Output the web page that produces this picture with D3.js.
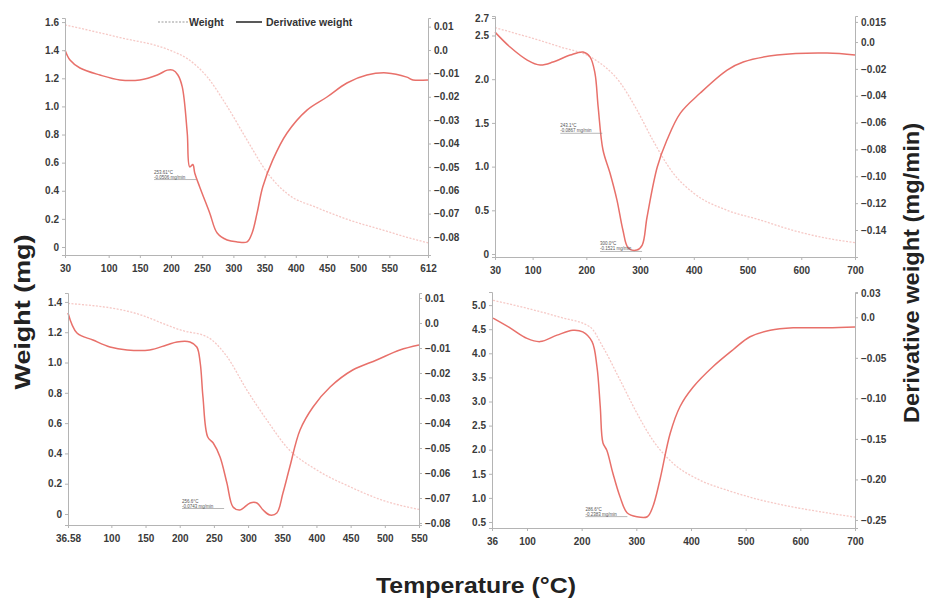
<!DOCTYPE html>
<html><head><meta charset="utf-8">
<script src="https://cdn.jsdelivr.net/npm/d3@7"></script>
<style>
body{margin:0;background:#fff;}
svg{font-family:"Liberation Sans",Arial,sans-serif;}
</style></head>
<body>
<svg id="c" width="929" height="601"></svg>
<script>
// ---------- DATA ----------
// Panel A (top-left)
const tempA_d = [30,38,54,86,118,150,178,194,203,211,218,226,230,235,238,246,262,274,290,306,322,330,338,347,363,386,418,450,482,514,546,578,588,612];
const derivA  = [0,-0.0043,-0.0077,-0.0107,-0.0128,-0.0128,-0.0107,-0.0086,-0.0086,-0.0107,-0.0158,-0.0355,-0.050,-0.049,-0.0526,-0.0586,-0.0697,-0.0783,-0.0813,-0.0821,-0.0821,-0.0783,-0.0697,-0.0586,-0.0471,-0.0355,-0.0257,-0.0201,-0.0141,-0.0107,-0.0098,-0.0116,-0.0128,-0.0128];
const tempA_w = [30,118,198,226,258,290,322,354,386,434,487,540,594,612];
const weightA = [1.58,1.49,1.40,1.34,1.21,1.00,0.76,0.53,0.38,0.28,0.19,0.12,0.05,0.03];
const xTicksA = [30,100,150,200,250,300,350,400,450,500,550,612];
const wTicksA = [0,0.2,0.4,0.6,0.8,1.0,1.2,1.4,1.6];
const dTicksA = [0.01,0,-0.01,-0.02,-0.03,-0.04,-0.05,-0.06,-0.07,-0.08];

// Panel B (top-right)
const tempB_d = [30,58,90,114,138,170,194,207,216,222,231,244,257,268,278,294,304,313,332,350,375,412,462,492,555,648,700];
const derivB  = [0.0074,-0.0037,-0.0134,-0.0171,-0.0149,-0.0097,-0.0074,-0.0112,-0.0231,-0.0484,-0.0804,-0.0975,-0.1177,-0.140,-0.1534,-0.1549,-0.1512,-0.1303,-0.0931,-0.0730,-0.0529,-0.038,-0.0209,-0.0149,-0.0097,-0.0082,-0.0097];
const tempB_w = [30,151,212,263,294,324,361,399,462,523,585,648,700];
const weightB = [2.59,2.37,2.24,1.96,1.65,1.30,0.93,0.70,0.50,0.39,0.27,0.18,0.13];
const xTicksB = [30,100,200,300,400,500,600,700];
const wTicksB = [0,0.5,1.0,1.5,2.0,2.5,2.7];
const dTicksB = [0.015,0,-0.02,-0.04,-0.06,-0.08,-0.10,-0.12,-0.14];

// Panel C (bottom-left)
const tempC_d = [36.58,49.7,73,98,123,156,181,196,215,225,230,234,241,249,259,269,278,288,303,313,322,332,342,351,361,376,395,420,453,488,522,550];
const derivC  = [0.004,-0.004,-0.0068,-0.0096,-0.0108,-0.0108,-0.0088,-0.0076,-0.0076,-0.0096,-0.016,-0.0296,-0.0456,-0.048,-0.0536,-0.064,-0.0736,-0.0748,-0.072,-0.072,-0.0748,-0.0768,-0.076,-0.068,-0.0576,-0.0428,-0.0336,-0.0256,-0.0188,-0.0148,-0.0108,-0.0088];
const tempC_w = [36.58,131.6,204.7,239.8,269,298,327.5,356.8,400.6,448.9,497,550];
const weightC = [1.39,1.33,1.21,1.17,1.04,0.82,0.62,0.44,0.29,0.18,0.09,0.03];
const xTicksC = [36.58,100,150,200,250,300,350,400,450,500,550];
const wTicksC = [0,0.2,0.4,0.6,0.8,1.0,1.2,1.4];
const dTicksC = [0.01,0,-0.01,-0.02,-0.03,-0.04,-0.05,-0.06,-0.07,-0.08];

// Panel D (bottom-right)
const tempD_d = [38,69,100,124,155,184,202,219,228,234,239,246,257,270,283,301,320,330,343,362,380,404,440,477,508,545,587,649,700];
const derivD  = [-0.001,-0.013,-0.026,-0.030,-0.022,-0.016,-0.018,-0.030,-0.061,-0.110,-0.155,-0.164,-0.192,-0.221,-0.241,-0.246,-0.246,-0.234,-0.201,-0.143,-0.110,-0.086,-0.061,-0.040,-0.024,-0.016,-0.013,-0.013,-0.012];
const tempD_w = [38,160,215,239,270,301,330,367,416,466,526,587,649,700];
const weightD = [5.1,4.75,4.55,4.13,3.45,2.76,2.2,1.72,1.37,1.16,0.96,0.81,0.69,0.60];
const xTicksD = [36,100,200,300,400,500,600,700];
const wTicksD = [0.5,1.0,1.5,2.0,2.5,3.0,3.5,4.0,4.5,5.0];
const dTicksD = [0.03,0,-0.05,-0.10,-0.15,-0.20,-0.25];

// Peak annotations (approximate)
const annotA = [{t:237, d:-0.052, l1:"253.61°C", l2:"-0.0506 mg/min"}];
const annotB = [{t:226, d:-0.062, l1:"243.1°C", l2:"-0.0867 mg/min"},{t:300, d:-0.150, l1:"300.0°C", l2:"-0.1521 mg/min"}];
const annotC = [{t:262, d:-0.071, l1:"256.6°C", l2:"-0.0743 mg/min"}];
const annotD = [{t:280, d:-0.236, l1:"286.6°C", l2:"-0.2383 mg/min"}];

// ---------- CHART ----------
const svg = d3.select("#c");
const derivColor = "#e8706a", weightColor = "#f6c9c6", axisColor = "#b4b4b4", textColor = "#3a3a3a";

const fmtW = v => v === 0 ? "0" : d3.format(".1f")(v);

const panels = [
  {box:{l:65,r:428,t:18,b:255}, xd:[30,612], wd:[-0.057,1.629], dd:[-0.0877,0.0137],
   td:tempA_d, dv:derivA, tw:tempA_w, wv:weightA, xt:xTicksA, wt:wTicksA, dt:dTicksA,
   fd: v => v===0 ? "0.0" : d3.format(".2f")(v), fw: fmtW, fx: v=>String(v), an:annotA},
  {box:{l:495,r:855,t:16,b:257}, xd:[30,700], wd:[-0.034,2.723], dd:[-0.1601,0.0194],
   td:tempB_d, dv:derivB, tw:tempB_w, wv:weightB, xt:xTicksB, wt:wTicksB, dt:dTicksB,
   fd: v => v===0 ? "0.0" : (v===0.015 ? "0.015" : d3.format(".2f")(v)), fw: fmtW, fx: v=>String(v), an:annotB},
  {box:{l:68,r:419,t:293,b:525}, xd:[36.58,550], wd:[-0.0726,1.459], dd:[-0.0808,0.012],
   td:tempC_d, dv:derivC, tw:tempC_w, wv:weightC, xt:xTicksC, wt:wTicksC, dt:dTicksC,
   fd: v => v===0 ? "0.0" : d3.format(".2f")(v), fw: fmtW, fx: v=>String(v), an:annotC},
  {box:{l:492,r:855,t:292,b:528}, xd:[36,700], wd:[0.3755,5.272], dd:[-0.2599,0.0312],
   td:tempD_d, dv:derivD, tw:tempD_w, wv:weightD, xt:xTicksD, wt:wTicksD, dt:dTicksD,
   fd: v => v===0 ? "0.0" : d3.format(".2f")(v), fw: v=>d3.format(".1f")(v), fx: v=>String(v), an:annotD}
];

function styleAxis(g){
  g.select(".domain").attr("stroke", axisColor).attr("stroke-width",1);
  g.selectAll(".tick line").attr("stroke", axisColor);
  g.selectAll(".tick text").attr("fill", textColor).attr("font-size","10px").attr("font-weight","bold");
}

panels.forEach(p => {
  const x = d3.scaleLinear().domain(p.xd).range([p.box.l, p.box.r]);
  const yw = d3.scaleLinear().domain(p.wd).range([p.box.b, p.box.t]);
  const yd = d3.scaleLinear().domain(p.dd).range([p.box.b, p.box.t]);

  // weight (dotted)
  const wData = p.tw.map((t,i)=>[t,p.wv[i]]);
  svg.append("path").datum(wData)
    .attr("fill","none").attr("stroke",weightColor).attr("stroke-width",1.3)
    .attr("stroke-dasharray","2,1.5")
    .attr("d", d3.line().x(d=>x(d[0])).y(d=>yw(d[1])).curve(d3.curveMonotoneX));

  // derivative (solid)
  const dData = p.td.map((t,i)=>[t,p.dv[i]]);
  svg.append("path").datum(dData)
    .attr("fill","none").attr("stroke",derivColor).attr("stroke-width",1.5)
    .attr("d", d3.line().x(d=>x(d[0])).y(d=>yd(d[1])).curve(d3.curveCatmullRom.alpha(0.5)));

  // axes
  svg.append("g").attr("transform",`translate(0,${p.box.b})`)
    .call(d3.axisBottom(x).tickValues(p.xt).tickFormat(p.fx).tickSizeOuter(0).tickSize(3))
    .call(styleAxis).call(g=>g.selectAll(".tick text").attr("dy","1.1em"));
  svg.append("g").attr("transform",`translate(${p.box.l},0)`)
    .call(d3.axisLeft(yw).tickValues(p.wt).tickFormat(p.fw).tickSizeOuter(0).tickSize(3))
    .call(styleAxis);
  svg.append("g").attr("transform",`translate(${p.box.r},0)`)
    .call(d3.axisRight(yd).tickValues(p.dt).tickFormat(p.fd).tickSizeOuter(0).tickSize(3))
    .call(styleAxis);

  // annotations
  p.an.forEach(a => {
    const ax = x(a.t), ay = yd(a.d);
    const g = svg.append("g");
    g.append("line").attr("x1",ax-40).attr("x2",ax+2).attr("y1",ay+8).attr("y2",ay+8)
      .attr("stroke","#888").attr("stroke-width",0.6);
    g.append("text").attr("x",ax-40).attr("y",ay+2).text(a.l1)
      .attr("font-size","4.5px").attr("fill","#555");
    g.append("text").attr("x",ax-40).attr("y",ay+7).text(a.l2)
      .attr("font-size","4.5px").attr("fill","#555");
  });
});

// legend
const lg = svg.append("g").attr("font-size","10.5px").attr("font-weight","bold").attr("fill","#333");
lg.append("line").attr("x1",158).attr("x2",188).attr("y1",22).attr("y2",22)
  .attr("stroke","#999").attr("stroke-width",1.2).attr("stroke-dasharray","2,1.5");
lg.append("text").attr("x",189).attr("y",26).text("Weight");
lg.append("line").attr("x1",236).attr("x2",262).attr("y1",22).attr("y2",22)
  .attr("stroke","#222").attr("stroke-width",1.5);
lg.append("text").attr("x",266).attr("y",26).text("Derivative weight");

// axis titles
svg.append("text").attr("transform","translate(30,312) rotate(-90)")
  .attr("text-anchor","middle").attr("font-size","22px").attr("font-weight","bold").attr("fill","#222")
  .attr("textLength",155).attr("lengthAdjust","spacingAndGlyphs")
  .text("Weight (mg)");
svg.append("text").attr("transform","translate(919,273) rotate(-90)")
  .attr("text-anchor","middle").attr("font-size","22px").attr("font-weight","bold").attr("fill","#222")
  .attr("textLength",300).attr("lengthAdjust","spacingAndGlyphs")
  .text("Derivative weight (mg/min)");
svg.append("text").attr("x",476).attr("y",593)
  .attr("text-anchor","middle").attr("font-size","22px").attr("font-weight","bold").attr("fill","#222")
  .attr("textLength",200).attr("lengthAdjust","spacingAndGlyphs")
  .text("Temperature (°C)");
</script>
</body></html>
